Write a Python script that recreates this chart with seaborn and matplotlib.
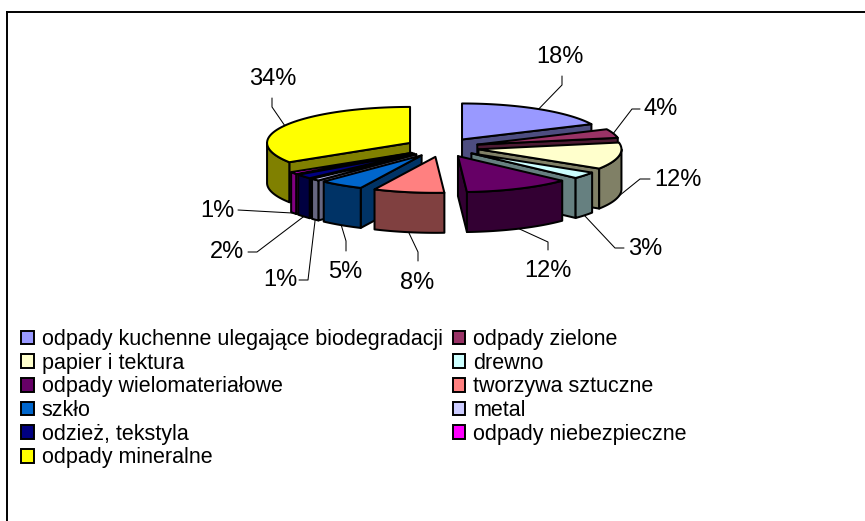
import numpy as np
import seaborn as sns
import matplotlib
matplotlib.use('Agg')
import matplotlib.pyplot as plt
from matplotlib.patches import Patch

# data
categories = ['odpady kuchenne ulegające biodegradacji', 'odpady zielone', 'papier i tektura',
              'drewno', 'odpady wielomateriałowe', 'tworzywa sztuczne', 'szkło', 'metal',
              'odzież, tekstyla', 'odpady niebezpieczne', 'odpady mineralne']
shares = [18, 4, 12, 3, 12, 8, 5, 1, 2, 1, 34]
slice_colors = ['#9999FF', '#993366', '#FFFFCC', '#CCFFFF', '#660066', '#FF8080',
                '#0066CC', '#CCCCFF', '#000080', '#FF00FF', '#FFFF00']

# label text centre and the elbow(s) of each leader line, in pixels
label_pos = [(560, 57), (661, 109), (678, 180), (645, 249), (548, 271), (417, 283),
             (345, 272), (280, 280), (227, 252), (217, 211), (273, 79)]
leader_bends = [[(562, 85), (562, 76)], [(632, 109), (640, 109)], [(640, 179), (650, 179)],
                [(615, 248), (624, 248)], [(548, 242), (548, 250)], [(418, 252), (418, 261)],
                [(346, 241), (346, 251)], [(308, 280), (299, 280)], [(257, 252), (248, 252)],
                [(238, 210)], [(272, 107), (272, 98)]]

# pie geometry, in pixels
CX, CY = 442.3, 147.5
RX, RY = 143, 36
EX, EY = 36.8, 9.5
DEPTH = 40
EDGE = 1.45

sns.set_theme(style='white')
plt.rcParams['font.family'] = ['Liberation Sans', 'DejaVu Sans']
palette = sns.color_palette(slice_colors)


def darker(color):
    return tuple(c * 0.5 for c in color)


def rim(ax_x, ax_y, deg):
    t = np.radians(deg)
    return ax_x + RX * np.sin(t), ax_y - RY * np.cos(t)


fig = plt.figure(figsize=(8.65, 5.21), dpi=100)
ax = fig.add_axes([7 / 865, 0, 858 / 865, 509 / 521])
ax.set_xlim(7, 865)
ax.set_ylim(521, 12)
ax.set_xticks([])
ax.set_yticks([])
sns.despine(ax=ax, top=False, left=False, right=True, bottom=True)
for side in ['top', 'left']:
    ax.spines[side].set_color('black')
    ax.spines[side].set_linewidth(1.4)

ends = np.cumsum(shares) / sum(shares) * 360
starts = ends - np.array(shares) / sum(shares) * 360
mids = (starts + ends) / 2

# apex of every exploded slice
apex_x = CX + EX * np.sin(np.radians(mids))
apex_y = CY - EY * np.cos(np.radians(mids))

# back to front so the nearer slices cover the others
for i in np.argsort(apex_y):
    ax_x, ax_y = apex_x[i], apex_y[i]
    top = palette[i]
    side = darker(top)
    style = dict(edgecolor='black', linewidth=EDGE, joinstyle='round')

    # flat walls along the two cuts
    if starts[i] > 180:
        x, y = rim(ax_x, ax_y, starts[i])
        ax.fill([ax_x, x, x, ax_x], [ax_y, y, y + DEPTH, ax_y + DEPTH], facecolor=side, **style)
    if ends[i] < 180:
        x, y = rim(ax_x, ax_y, ends[i])
        ax.fill([ax_x, x, x, ax_x], [ax_y, y, y + DEPTH, ax_y + DEPTH], facecolor=side, **style)

    # curved wall, only where it faces the viewer
    a0, a1 = max(starts[i], 90), min(ends[i], 270)
    if a1 > a0:
        x, y = rim(ax_x, ax_y, np.linspace(a0, a1, 40))
        ax.fill(np.r_[x, x[::-1]], np.r_[y, y[::-1] + DEPTH], facecolor=side, **style)

    # top face
    x, y = rim(ax_x, ax_y, np.linspace(starts[i], ends[i], 60))
    ax.fill(np.r_[ax_x, x], np.r_[ax_y, y], facecolor=top, **style)

# percent labels and leader lines
for i, share in enumerate(shares):
    x, y = rim(apex_x[i], apex_y[i], mids[i])
    if np.cos(np.radians(mids[i])) < 0:
        y += DEPTH
    px = [x] + [p[0] for p in leader_bends[i]]
    py = [y] + [p[1] for p in leader_bends[i]]
    ax.plot(px, py, color='black', lw=0.75, zorder=5)
    ax.text(label_pos[i][0], label_pos[i][1], f'{share}%', fontsize=17, color='black',
            ha='center', va='center', zorder=6)

handles = [Patch(facecolor=palette[i], edgecolor='black', linewidth=1.4, label=categories[i])
           for i in list(range(0, 11, 2)) + list(range(1, 11, 2))]
ax.legend(handles=handles, ncol=2, frameon=False, fontsize=15.5, loc='upper left',
          bbox_to_anchor=(21, 329), bbox_transform=ax.transData, borderpad=0, borderaxespad=0,
          handlelength=0.6, handleheight=0.6, handletextpad=0.37, columnspacing=0.45,
          labelspacing=0.125, labelcolor='black')

fig.savefig('out.png', dpi=100, facecolor='white')
